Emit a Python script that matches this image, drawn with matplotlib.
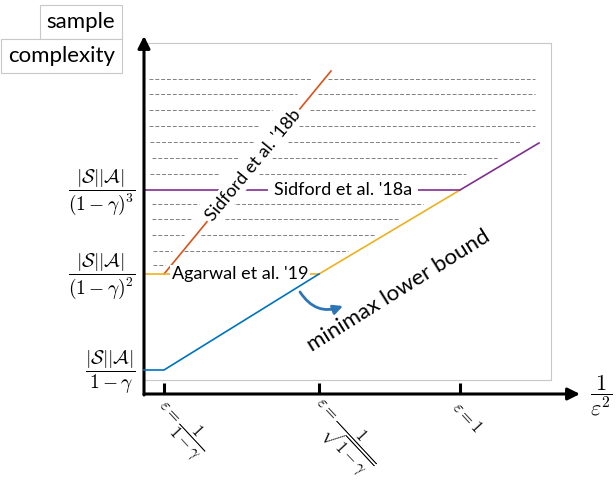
import numpy as np
import matplotlib
matplotlib.use("Agg")
import matplotlib.pyplot as plt
from matplotlib.patches import FancyArrowPatch

plt.rcParams['font.family'] = ['Lato', 'DejaVu Sans']
plt.rcParams['mathtext.fontset'] = 'cm'

# x: position along 1/eps^2, y: sample complexity (arbitrary units)
x_ticks = [0.20, 1.75, 3.16]
x_labels = [r'$\varepsilon = \dfrac{1}{1-\gamma}$',
            r'$\varepsilon = \dfrac{1}{\sqrt{1-\gamma}}$',
            r'$\varepsilon = 1$']
levels = [0.24, 1.20, 2.04]
y_labels = [r'$\dfrac{|\mathcal{S}||\mathcal{A}|}{1-\gamma}$',
            r'$\dfrac{|\mathcal{S}||\mathcal{A}|}{(1-\gamma)^2}$',
            r'$\dfrac{|\mathcal{S}||\mathcal{A}|}{(1-\gamma)^3}$']

# lower bound pieces
blue_x = [0, 0.20, 1.75]
blue_y = [0.24, 0.24, 1.20]
yellow_x = [0, 1.75, 3.16]
yellow_y = [1.20, 1.20, 2.04]
purple_x = [0, 3.16, 3.95]
purple_y = [2.04, 2.04, 2.51]
orange_x = [0.20, 1.87]
orange_y = [1.20, 3.23]

# dashed hatching rows
rows_y = [3.15, 3.00, 2.84, 2.68, 2.52, 2.36, 2.20, 1.90, 1.75, 1.59, 1.43, 1.29]
left_start = [0.05, 0.05, 0.05, 0.05, 0.06, 0.08, 0.06, 0.08, 0.08, 0.08, 0.09, 0.09]
left_end = [1.68, 1.53, 1.28, 1.15, 1.10, 0.95, 0.76, 0.55, 0.49, 0.40, 0.28, 0.21]
right_start = [1.84, 1.74, 1.66, 1.55, 1.44, 1.28, 1.15, 0.86, 0.81, 0.57, 0.40, None]
right_end = [3.91, 3.91, 3.91, 3.91, 3.76, 3.53, 3.22, 2.79, 2.55, 2.31, 2.04, None]

c_blue = '#0072BD'
c_orange = '#D95319'
c_yellow = '#EDB120'
c_purple = '#7E2F8E'

fig = plt.figure(figsize=(6.16, 4.8), dpi=100)
ax = fig.add_axes([144/616, 100/480, 407/616, 337/480])
ax.set_xlim(0, 4.07)
ax.set_ylim(0.14, 3.51)
ax.set_xticks([])
ax.set_yticks([])
for s in ax.spines.values():
    s.set_color('#c8c8c8')
    s.set_linewidth(0.8)

for i, y in enumerate(rows_y):
    ax.plot([left_start[i], left_end[i]], [y, y], color='#808080', lw=0.7,
            dashes=(4, 2), zorder=1)
    if right_start[i] is not None:
        ax.plot([right_start[i], right_end[i]], [y, y], color='#808080', lw=0.7,
                dashes=(4, 2), zorder=1)

ax.plot(orange_x, orange_y, color=c_orange, lw=1.2, zorder=2, clip_on=False)
ax.plot(blue_x, blue_y, color=c_blue, lw=1.2, zorder=6, clip_on=False)
ax.plot(yellow_x, yellow_y, color=c_yellow, lw=1.2, zorder=3, clip_on=False)
ax.plot(purple_x, purple_y, color=c_purple, lw=1.2, zorder=3, clip_on=False)

ax.text(0.96, 1.20, "Agarwal et al. '19", fontsize=13, ha='center', va='center',
        bbox=dict(facecolor='white', edgecolor='none', pad=1), zorder=5)
ax.text(1.99, 2.04, "Sidford et al. '18a", fontsize=13, ha='center', va='center',
        bbox=dict(facecolor='white', edgecolor='none', pad=4), zorder=5)
ax.text(1.09, 2.29, "Sidford et al. '18b", fontsize=13, ha='center', va='center',
        rotation=50.4, rotation_mode='anchor',
        bbox=dict(facecolor='white', edgecolor='none', pad=2), zorder=5)
ax.text(2.55, 1.03, "minimax lower bound", fontsize=16, ha='center', va='center',
        rotation=32, rotation_mode='anchor', zorder=5)

arr = FancyArrowPatch((1.56, 1.02), (1.99, 0.88), connectionstyle='arc3,rad=0.4',
                      arrowstyle='-|>', mutation_scale=14, lw=2, color='#2E75B6',
                      shrinkA=0, shrinkB=0, zorder=5)
ax.add_patch(arr)

# black axes with arrows
ax.annotate('', xy=(4.36, 0), xytext=(0, 0), annotation_clip=False,
            arrowprops=dict(arrowstyle='-|>', lw=2.2, color='k', mutation_scale=18,
                            shrinkA=0, shrinkB=0))
ax.annotate('', xy=(0, 3.58), xytext=(0, -0.01), annotation_clip=False,
            arrowprops=dict(arrowstyle='-|>', lw=2.2, color='k', mutation_scale=18,
                            shrinkA=0, shrinkB=0))
for xt, lab in zip(x_ticks, x_labels):
    ax.plot([xt, xt], [0, 0.11], color='k', lw=2.2, clip_on=False, solid_capstyle='butt')
    ax.text(xt - 0.05, -0.10, lab, fontsize=12, rotation=-47, rotation_mode='anchor',
            ha='left', va='center')

for lv, lab in zip(levels, y_labels):
    ax.text(-0.08, lv - 0.02, lab, fontsize=14, ha='right', va='center')

ax.text(4.46, -0.02, r'$\dfrac{1}{\varepsilon^2}$', fontsize=16, ha='left', va='center')

fig.text(115/616, 1 - 22/480, 'sample', fontsize=16, ha='right', va='center',
         bbox=dict(boxstyle='square,pad=0.3', facecolor='white', edgecolor='#c8c8c8', lw=0.8))
fig.text(115/616, 1 - 56/480, 'complexity', fontsize=16, ha='right', va='center',
         bbox=dict(boxstyle='square,pad=0.3', facecolor='white', edgecolor='#c8c8c8', lw=0.8))

fig.savefig('out.png', dpi=100)
